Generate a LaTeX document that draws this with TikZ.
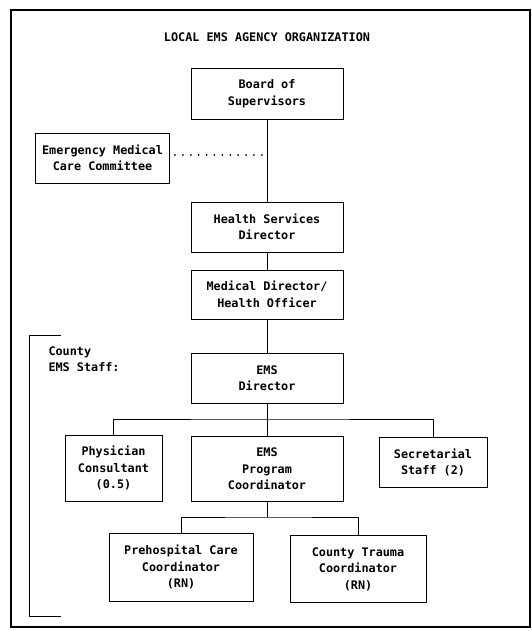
\documentclass[tikz,border=0pt]{standalone}
\usepackage{fontspec}
\newfontfamily\dotfont{DejaVu Sans Mono}
\usetikzlibrary{positioning}

\begin{document}
\begin{tikzpicture}
  [x=1pt,y=-1pt,
  box/.style={draw=black,line width=0.9pt,align=center,inner sep=1pt,font=\dotfont\bfseries\fontsize{11.8}{16.5}\selectfont},
  link/.style={draw=black,line width=0.9pt},
  dotlink/.style={draw=black,line width=2pt,line cap=round,dash pattern=on 0pt off 7.9pt}]
  \useasboundingbox (0,0) rectangle (532,631);
  \draw [line width=1.6pt] (11,10) rectangle (530,627);

  \node[font=\dotfont\bfseries\fontsize{11.8}{14}\selectfont] (title) at (267,37) {LOCAL EMS AGENCY ORGANIZATION};

  \node[box,minimum width=152pt,minimum height=51pt] (board) at (267,93.5) {Board of\\Supervisors};
  \node[box,minimum width=134pt,minimum height=50pt] (emcc) at (102.5,158) {Emergency Medical\\Care Committee};
  \node[box,minimum width=152pt,minimum height=50pt] (hsd) at (267,227) {Health Services\\Director};
  \node[box,minimum width=152pt,minimum height=49pt] (mdho) at (267,294.5) {Medical Director/\\Health Officer};
  \node[box,minimum width=152pt,minimum height=50pt] (emsdir) at (267,378) {EMS\\Director};

  \node[box,minimum width=97pt,minimum height=66pt] (phys) at (113.5,468) {Physician\\Consultant\\(0.5)};
  \node[box,minimum width=152pt,minimum height=65pt] (prog) at (267,469) {EMS\\Program\\Coordinator};
  \node[box,minimum width=108pt,minimum height=50pt] (sec) at (433,462.5) {Secretarial\\Staff (2)};

  \node[box,minimum width=144pt,minimum height=68pt] (pre) at (181,567) {Prehospital Care\\Coordinator\\(RN)};
  \node[box,minimum width=136pt,minimum height=67pt] (trauma) at (358,569) {County Trauma\\Coordinator\\(RN)};

  \node[font=\dotfont\bfseries\fontsize{11.8}{16}\selectfont,align=left,anchor=north west] (staff) at (45,343) {County\\EMS Staff:};

  \coordinate (busA) at (267,419);
  \coordinate (busB) at (267,517);
  \coordinate (dotend) at (265,155);

  \draw [link] (board) -- (hsd);
  \draw [link] (hsd) -- (mdho);
  \draw [link] (mdho) -- (emsdir);
  \draw [link] (emsdir) -- (prog);
  \draw [link] (phys.north) |- (busA) -| (sec.north);
  \draw [link] (prog) -- (busB);
  \draw [link] (pre.north) |- (busB) -| (trauma.north);
  \draw [dotlink] (emcc.east |- dotend) ++(5,0) -- (dotend);

  \draw [link] (61,335) -- (29,335) -- (29,616) -- (61,616);

\end{tikzpicture}
\end{document}
